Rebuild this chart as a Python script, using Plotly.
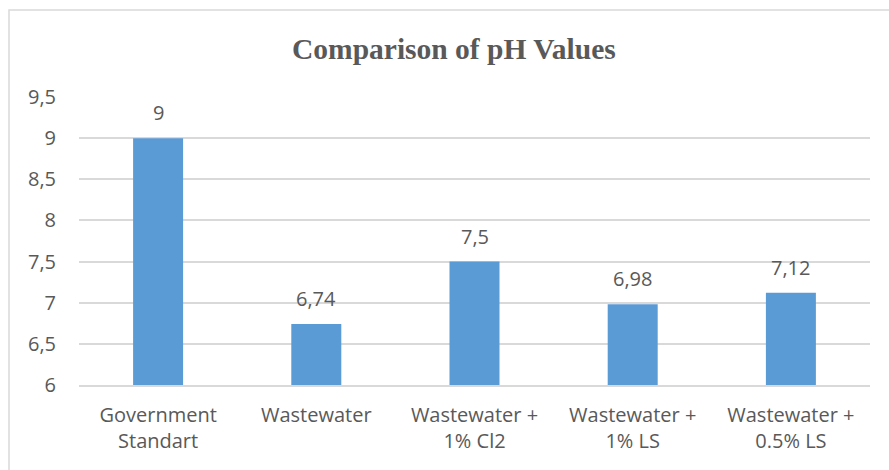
import plotly.graph_objects as go

categories = ["Government<br>Standart", "Wastewater", "Wastewater +<br>1% Cl2",
              "Wastewater +<br>1% LS", "Wastewater +<br>0.5% LS"]
ph_values = [9, 6.74, 7.5, 6.98, 7.12]
value_labels = ["9", "6,74", "7,5", "6,98", "7,12"]
tick_vals = [6, 6.5, 7, 7.5, 8, 8.5, 9, 9.5]
tick_text = ["6", "6,5", "7", "7,5", "8", "8,5", "9", "9,5"]

TEXT = "#595959"
FONT = "Open Sans"
FS = 20

fig = go.Figure()
fig.add_trace(go.Bar(
    x=categories, y=ph_values, marker_color="#5B9BD5",
    marker_line_width=0, width=0.316,
))

for c, v, t in zip(categories, ph_values, value_labels):
    fig.add_annotation(x=c, y=v, text=t, showarrow=False, yanchor="bottom",
                       yshift=10, font=dict(family=FONT, size=FS, color=TEXT))

fig.add_annotation(xref="paper", yref="paper", x=(454 - 79) / 791, y=1.0, yshift=48,
                   xanchor="center", yanchor="middle", showarrow=False,
                   text="<b>Comparison of pH Values</b>",
                   font=dict(family="Liberation Serif", size=29.5, color=TEXT))

fig.update_layout(
    width=889, height=470,
    margin=dict(l=79, r=19, t=97, b=85),
    paper_bgcolor="white", plot_bgcolor="white",
    showlegend=False,
    font=dict(family=FONT, size=FS, color=TEXT),
    shapes=[dict(type="rect", xref="paper", yref="paper",
                 x0=-0.0885, x1=1.1, y0=-0.5, y1=1.302,
                 line=dict(color="#D9D9D9", width=1.5), layer="below")],
)
fig.update_xaxes(showgrid=False, showline=True, linecolor="#D9D9D9", linewidth=1.5,
                 ticks="", ticklabelstandoff=11,
                 tickfont=dict(family=FONT, size=FS, color=TEXT))
fig.update_yaxes(range=[6, 9.5], tickvals=tick_vals, ticktext=tick_text,
                 showgrid=True, gridcolor="#D9D9D9", gridwidth=1.5, zeroline=False,
                 showline=False, ticks="", ticklabelstandoff=22,
                 tickfont=dict(family=FONT, size=FS, color=TEXT))

fig.write_html("out.html", config={"displayModeBar": False},
               post_script="document.body.style.margin='0';")
